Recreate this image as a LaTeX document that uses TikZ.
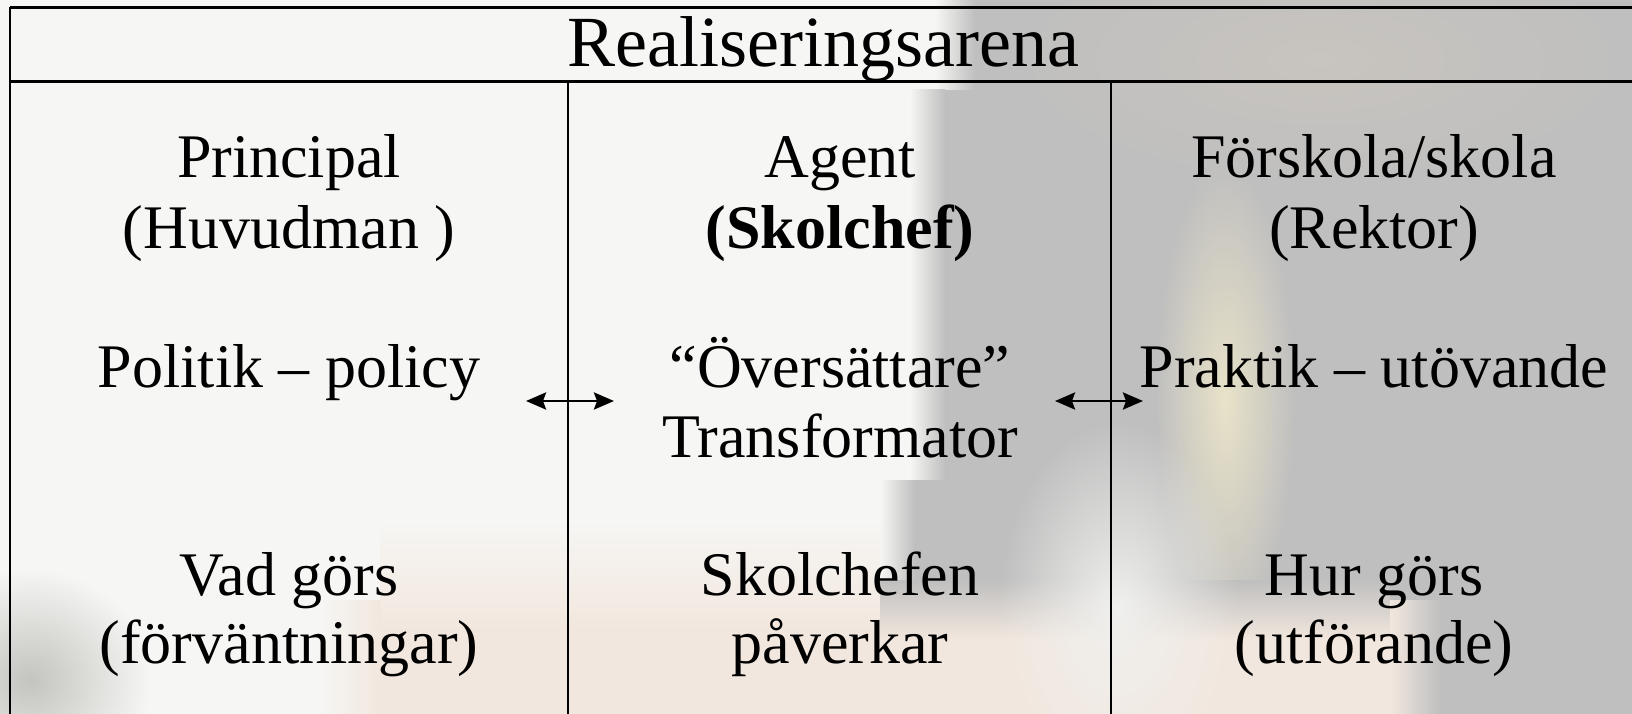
\documentclass[tikz,border=0pt]{standalone}
\usepackage{fontspec}
\setmainfont{Liberation Serif}
\usetikzlibrary{arrows.meta,fadings}
\definecolor{bgwhite}{HTML}{F6F6F4}
\definecolor{bggray}{HTML}{BFBFBF}
\definecolor{peach}{HTML}{F2E7DE}
\definecolor{cream}{HTML}{E9E3C9}
\definecolor{warmgray}{HTML}{C8C4BF}
\definecolor{dimgray}{HTML}{C4C4C0}
\definecolor{blobwhite}{HTML}{F0F0EE}
\tikzfading[name=softblob, inner color=transparent!0, outer color=transparent!100]
\tikzset{
  hdr/.style={font=\fontsize{72}{80}\selectfont, inner sep=0pt, anchor=base},
  txt/.style={font=\fontsize{62}{70}\selectfont, inner sep=0pt, anchor=base},
  tabline/.style={line width=2.2pt, black},
  biarrow/.style={line width=2.8pt, black, {Stealth[length=20pt,width=17pt,inset=3pt]}-{Stealth[length=20pt,width=17pt,inset=3pt]}}
}
\begin{document}
\begin{tikzpicture}[x=1pt,y=-1pt]
\useasboundingbox (0,0) rectangle (1632,714);
% background (blurred photo approximation)
\fill[bgwhite] (0,0) rectangle (1632,714);
\fill[bggray] (975,0) rectangle (1632,714);
\shade[left color=bgwhite, right color=bggray] (935,0) rectangle (975,90);
\fill[bggray] (945,90) rectangle (975,714);
\shade[left color=bgwhite, right color=bggray] (910,90) rectangle (945,480);
\fill[bggray] (915,480) rectangle (945,714);
\shade[left color=bgwhite, right color=bggray] (880,480) rectangle (915,600);
\shade[inner color=warmgray, outer color=bggray] (1320,60) ellipse [x radius=320, y radius=130];
\fill[cream, path fading=softblob] (1225,400) ellipse [x radius=70, y radius=240];
% warm band at bottom
\shade[top color=bgwhite, bottom color=peach] (380,520) rectangle (880,630);
\shade[top color=bggray, bottom color=peach] (880,580) rectangle (1390,640);
\fill[peach] (380,630) rectangle (880,714);
\fill[peach] (880,640) rectangle (1390,714);
\shade[left color=bgwhite, right color=peach] (320,600) rectangle (380,714);
\shade[left color=peach, right color=bggray] (1390,600) rectangle (1440,714);
\fill[blobwhite, path fading=softblob] (1118,610) ellipse [x radius=120, y radius=190];
\fill[dimgray, path fading=softblob] (30,680) ellipse [x radius=120, y radius=110];
% table rules
\coordinate (tl) at (10,7.5);
\coordinate (tr) at (1650,7.5);
\coordinate (hl) at (10,81.5);
\coordinate (hr) at (1650,81.5);
\coordinate (bl) at (10,720);
\coordinate (v1t) at (568,81.5);
\coordinate (v1b) at (568,720);
\coordinate (v2t) at (1111,81.5);
\coordinate (v2b) at (1111,720);
\draw[tabline] (tl) -- (tr);
\draw[tabline] (hl) -- (hr);
\draw[tabline] (tl) -- (bl);
\draw[tabline] (v1t) -- (v1b);
\draw[tabline] (v2t) -- (v2b);
% header
\node[hdr] (head) at (823.5,67) {Realiseringsarena};
% column 1
\node[txt] (c1a) at (289,178) {Principal};
\node[txt] (c1b) at (289,248) {(Huvudman )};
\node[txt] (c1c) at (289,387) {Politik – policy};
\node[txt] (c1d) at (289,595) {Vad görs};
\node[txt] (c1e) at (289,663) {(förväntningar)};
% column 2
\node[txt] (c2a) at (840,178) {Agent};
\node[txt] (c2b) at (840,248) {\bfseries(Skolchef)};
\node[txt] (c2c) at (840,387) {“Översättare”};
\node[txt] (c2d) at (840,457) {Transformator};
\node[txt] (c2e) at (840,595) {Skolchefen};
\node[txt] (c2f) at (840,663) {påverkar};
% column 3
\node[txt] (c3a) at (1374,178) {Förskola/skola};
\node[txt] (c3b) at (1374,248) {(Rektor)};
\node[txt] (c3c) at (1374,387) {Praktik – utövande};
\node[txt] (c3d) at (1374,595) {Hur görs};
\node[txt] (c3e) at (1374,663) {(utförande)};
% arrows
\coordinate (a1l) at (526,401);
\coordinate (a1r) at (614,401);
\coordinate (a2l) at (1055,401);
\coordinate (a2r) at (1143,401);
\draw[biarrow] (a1l) -- (a1r);
\draw[biarrow] (a2l) -- (a2r);
\end{tikzpicture}
\end{document}
